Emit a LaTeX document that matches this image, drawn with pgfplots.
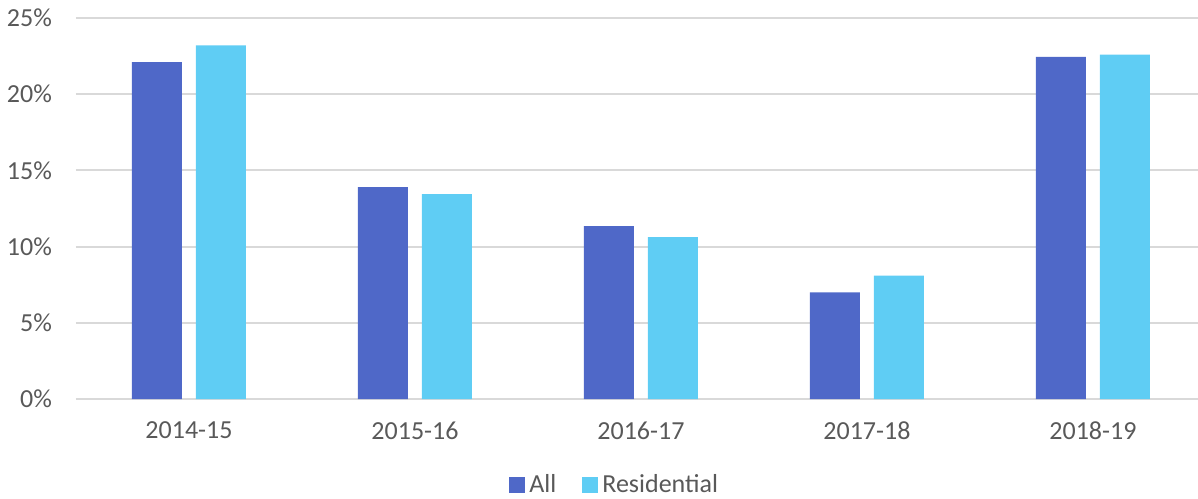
\documentclass[border=0pt]{standalone}
\usepackage{pgfplots}
\pgfplotsset{compat=1.18}
\usepackage{fontspec}
\setmainfont{Carlito}
\definecolor{cAll}{HTML}{4F68C8}
\definecolor{cRes}{HTML}{5FCDF4}
\definecolor{cGrid}{HTML}{D9D9D9}
\definecolor{cText}{HTML}{595959}
\begin{document}
\begin{tikzpicture}
\begin{axis}[
  scale only axis,
  width=561pt, height=190.5pt,
  xmin=-0.5, xmax=4.465,
  ymin=0, ymax=25,
  ybar=7pt, bar width=25pt,
  axis line style={draw=none},
  xtick={0,1,2,3,4},
  xticklabels={2014-15,2015-16,2016-17,2017-18,2018-19},
  ytick={0,5,10,15,20,25},
  yticklabel={\pgfmathprintnumber{\tick}\%},
  /pgf/number format/assume math mode=true,
  major tick length=0pt,
  ymajorgrids,
  grid style={cGrid, line width=1pt},
  tick label style={font=\fontsize{13pt}{15pt}\selectfont, text=cText},
  yticklabel style={xshift=-8.5pt},
  xticklabel style={yshift=-8pt},
  legend style={draw=none, at={(0.481,-0.226)}, anchor=center,
    legend columns=2, font=\fontsize{13pt}{15pt}\selectfont, text=cText,
    /tikz/every even column/.append style={column sep=11pt}},
  legend cell align=left,
  legend image code/.code={\fill[#1] (0pt,-4pt) rectangle (8pt,4pt);},
]
\addplot[fill=cAll, draw=none] coordinates {(0,22.1) (1,13.9) (2,11.35) (3,7.0) (4,22.45)};
\addplot[fill=cRes, draw=none] coordinates {(0,23.2) (1,13.45) (2,10.63) (3,8.1) (4,22.6)};
\legend{All,Residential}
\end{axis}
\pgfresetboundingbox
\path (-38pt,-49.5pt) rectangle (561pt,199.5pt);
\end{tikzpicture}
\end{document}
